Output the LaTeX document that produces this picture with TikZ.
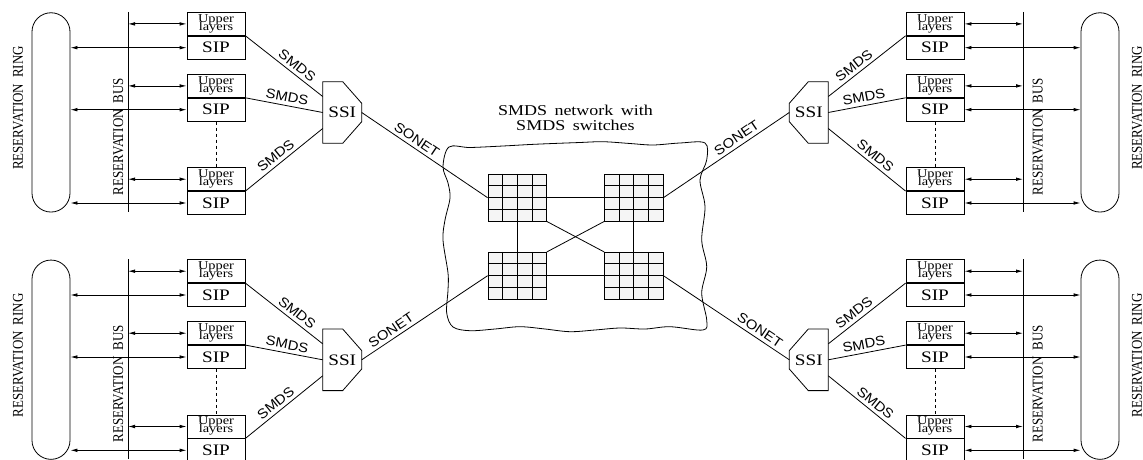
\documentclass[tikz,border=0pt]{standalone}
\usepackage{fontspec}
\setmainfont{Liberation Serif}
\newfontfamily\serifw[FakeStretch=1.2]{Liberation Serif}
\newfontfamily\serifn{Liberation Serif}
\newfontfamily\sansw[FakeStretch=1.1]{Liberation Sans}
\usetikzlibrary{arrows.meta,calc}
\newcommand\widesp{\spaceskip=0.5em\relax}
\newcommand\mxset[3]{\pgfmathsetmacro#1{575.5+#2*(#3-575.5)}}
\newcommand\uplayers{\begin{tabular}{@{}c@{}}Upper\\[-3.3pt]layers\end{tabular}}
\tikzset{
  ring/.style={draw, minimum width=38, minimum height=199.3, rounded corners=19, inner sep=0},
  vlbl/.style={rotate=90, font=\serifn\fontsize{13}{15}\selectfont, inner sep=0},
  upbox/.style={draw, anchor=north, minimum width=58, minimum height=23, inner sep=0,
    font=\serifw\fontsize{12}{10}\selectfont},
  sipbox/.style={draw, anchor=north, minimum width=58, minimum height=23, inner sep=0,
    font=\serifw\fontsize{16}{18}\selectfont},
  ssitxt/.style={inner sep=0, font=\serifw\fontsize{16}{18}\selectfont},
  arr/.style={{Latex[length=7pt,width=3.6pt]}-{Latex[length=7pt,width=3.6pt]}},
  lbl/.style={sloped, above, font=\sansw\fontsize{13.5}{15}\selectfont},
  grid/.style={draw, fill=gray!8, minimum width=58.4, minimum height=46.7, inner sep=0},
}
\newcommand{\myquad}[7]{%
  \mxset\xring{#2}{51}%
  \mxset\xbus{#2}{128}%
  \mxset\xbox{#2}{216}%
  \mxset\xssi{#2}{342.2}%
  \mxset\xsa{#2}{322.7}%
  \mxset\xsb{#2}{342.7}%
  \mxset\xsc{#2}{361.7}%
  \pgfmathsetmacro\xrl{575.5+#2*(18-575.5)+(1-#2)*2}%
  \pgfmathsetmacro\xbl{575.5+#2*(118.3-575.5)+(1-#2)*2.5}%
  \begin{scope}[shift={(0,#3)}]
    \node[ring] (#1ring) at (\xring,112.4) {};
    \node[vlbl] (#1rl) at (\xrl,108) {\scalebox{1}[1.15]{RESERVATION\hspace{0.45em}RING}};
    \coordinate (#1bt) at (\xbus,12);
    \coordinate (#1bb) at (\xbus,212);
    \draw (#1bt) -- (#1bb);
    \node[vlbl] (#1bl) at (\xbl,136.5) {\scalebox{1}[1.15]{RESERVATION\hspace{0.45em}BUS}};
    \foreach \i/\yy in {1/12,2/74,3/167.3}{
      \node[upbox] (#1u\i) at (\xbox,\yy) {\uplayers};
      \node[sipbox] (#1s\i) at (#1u\i.south) {SIP};
      \draw[arr] (#1bt |- #1u\i.#4) -- (#1u\i.#4);
      \draw[arr] (#1ring.#5 |- #1s\i.#4) -- (#1s\i.#4);
    }
    \draw[dashed] (#1s2.south) -- (#1u3.north);
    \node[ssitxt] (#1ssi) at (\xssi,112.5) {SSI};
    \draw (\xsa,81.7) -- (\xsb,81.7) -- (\xsc,103.3) -- (\xsc,121.7)
      -- (\xsb,143.3) -- (\xsa,143.3) -- cycle;
    \coordinate (#1ia) at (\xsa,96.5);
    \coordinate (#1ib) at (\xsa,112.5);
    \coordinate (#1ic) at (\xsa,128.5);
    \coordinate (#1o) at (\xsc,112.5);
    \draw (#1u1.south #5) -- node[lbl,pos=0.6]{SMDS} (#1ia);
    \draw (#1u2.south #5) -- node[lbl,pos=0.52]{SMDS} (#1ib);
    \draw (#1u3.south #5) -- node[lbl,pos=0.46]{SMDS} (#1ic);
    \draw (#1o) -- node[lbl,pos=#7]{SONET} (#6);
  \end{scope}
}
\begin{document}
\begin{tikzpicture}[x=1pt,y=-1pt,line width=0.8pt]
\useasboundingbox (0,0) rectangle (1143,460);
% SMDS network cloud
\draw plot[smooth cycle, tension=0.55] coordinates {
 (449,147) (470,147.5) (503,146) (530,144.5) (553,143.5) (580,142.5) (603,141.7) (630,143.5)
 (653,145) (680,143) (705,143)
 (706.7,160) (700,180) (705,206.7) (701.7,240) (706.7,266.7) (701.7,293) (706.7,320)
 (703,330) (670,326.7) (645,329) (620,328) (595,330) (570,331.7) (545,329) (520,326.7)
 (495,329) (470,330.7) (453,327)
 (446.7,313) (448,290) (448,273) (443,240) (445,220) (450,198) (448,183) (443,166.7)};
\node[align=center, font=\serifw\fontsize{15}{15.5}\selectfont] (nettxt) at (575.5,118)
  {\widesp SMDS network with\\\widesp SMDS switches};
% switches
\foreach \g/\gx/\gy in {gtl/517.2/197.7, gtr/633.8/197.7, gbl/517.2/275.7, gbr/633.8/275.7}{
  \node[grid] (\g) at (\gx,\gy) {};
  \foreach \k in {1,2,3}{
    \draw ($(\g.north west)!\k/4!(\g.north east)$) -- ($(\g.south west)!\k/4!(\g.south east)$);
    \draw ($(\g.north west)!\k/4!(\g.south west)$) -- ($(\g.north east)!\k/4!(\g.south east)$);
  }
}
\draw (gtl.east) -- (gtr.west);
\draw (gbl.east) -- (gbr.west);
\draw (gtl.south) -- (gbl.north);
\draw (gtr.south) -- (gbr.north);
\draw (gtl.south east) -- (gbr.north west);
\draw (gtr.south west) -- (gbl.north east);
% quadrants
\myquad{tl}{1}{0}{west}{east}{gtl.west}{0.4}
\myquad{bl}{1}{247.3}{west}{east}{gbl.west}{0.27}
\myquad{tr}{(-1)}{0}{east}{west}{gtr.east}{0.38}
\myquad{br}{(-1)}{247.3}{east}{west}{gbr.east}{0.27}
\end{tikzpicture}
\end{document}
